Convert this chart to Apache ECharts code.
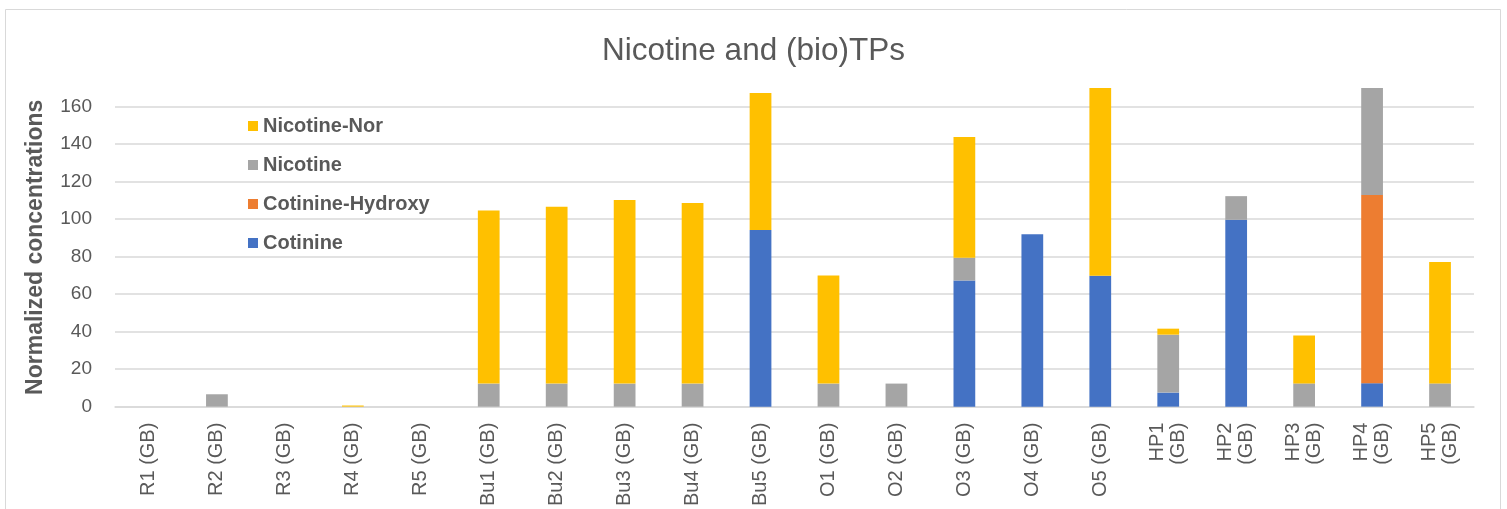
<!DOCTYPE html>
<html>
<head>
<meta charset="utf-8">
<title>Nicotine and (bio)TPs</title>
<script src="https://cdn.jsdelivr.net/npm/echarts@6/dist/echarts.min.js"></script>
<style>
  html, body { margin: 0; padding: 0; background: #ffffff; }
  #chart { width: 1507px; height: 509px; }
</style>
</head>
<body>
<div id="chart"></div>
<script>
// Sample sites (HP labels wrap onto two lines)
const categories = [
  'R1 (GB)', 'R2 (GB)', 'R3 (GB)', 'R4 (GB)', 'R5 (GB)',
  'Bu1 (GB)', 'Bu2 (GB)', 'Bu3 (GB)', 'Bu4 (GB)', 'Bu5 (GB)',
  'O1 (GB)', 'O2 (GB)', 'O3 (GB)', 'O4 (GB)', 'O5 (GB)',
  'HP1\n(GB)', 'HP2\n(GB)', 'HP3\n(GB)', 'HP4\n(GB)', 'HP5\n(GB)'
];

// Stacked series, bottom to top
const cotinine = [
  0, 0, 0, 0, 0,
  0, 0, 0, 0, 94.3,
  0, 0, 67.3, 92.0, 69.8,
  7.5, 99.7, 0, 12.5, 0
];
const cotinineHydroxy = [
  0, 0, 0, 0, 0,
  0, 0, 0, 0, 0,
  0, 0, 0, 0, 0,
  0, 0, 0, 100.4, 0
];
const nicotine = [
  0, 6.6, 0, 0, 0,
  12.3, 12.3, 12.3, 12.3, 0,
  12.3, 12.3, 12.1, 0, 0,
  30.9, 12.6, 12.4, 57.5, 12.4
];
const nicotineNor = [
  0, 0, 0, 0.6, 0,
  92.3, 94.4, 97.9, 96.3, 73.0,
  57.7, 0, 64.4, 0, 100.5,
  3.2, 0, 25.6, 0, 64.8
];

const yTicks = { min: 0, max: 170, interval: 20 };

const FONT = "'Liberation Sans', Arial, sans-serif";
const TEXT = '#595959';
const GRID = '#d9d9d9';

const chart = echarts.init(document.getElementById('chart'), null, { renderer: 'canvas' });

function barSeries(name, data, color) {
  return {
    name: name,
    type: 'bar',
    stack: 'total',
    data: data,
    barWidth: '32%',
    itemStyle: { color: color },
    emphasis: { disabled: true }
  };
}

chart.setOption({
  backgroundColor: '#ffffff',
  animation: false,
  graphic: [{
    type: 'rect',
    silent: true,
    shape: { x: 5.5, y: 9.5, width: 1495, height: 540 },
    style: { fill: 'none', stroke: GRID, lineWidth: 1 }
  }],
  title: {
    text: 'Nicotine and (bio)TPs',
    left: 'center',
    top: 30,
    textStyle: { fontFamily: FONT, fontSize: 31.5, fontWeight: 'normal', color: TEXT }
  },
  legend: {
    orient: 'vertical',
    left: 243,
    top: 111,
    icon: 'rect',
    itemWidth: 10,
    itemHeight: 10,
    itemGap: 19,
    selectedMode: false,
    data: ['Nicotine-Nor', 'Nicotine', 'Cotinine-Hydroxy', 'Cotinine'],
    textStyle: { fontFamily: FONT, fontSize: 20, fontWeight: 'bold', color: TEXT, lineHeight: 20 }
  },
  grid: { left: 115, right: 33, top: 88, bottom: 102.3, containLabel: false },
  xAxis: {
    type: 'category',
    data: categories,
    axisLine: { show: true, lineStyle: { color: GRID, width: 1.5 } },
    axisTick: { show: false },
    axisLabel: {
      interval: 0,
      rotate: 90,
      margin: 16,
      fontFamily: FONT,
      fontSize: 20,
      color: TEXT,
      lineHeight: 21
    }
  },
  yAxis: {
    type: 'value',
    min: yTicks.min,
    max: yTicks.max,
    interval: yTicks.interval,
    name: 'Normalized concentrations',
    nameLocation: 'middle',
    nameGap: 68,
    nameTextStyle: { fontFamily: FONT, fontSize: 23, fontWeight: 'bold', color: TEXT },
    axisLine: { show: false },
    axisTick: { show: false },
    axisLabel: { fontFamily: FONT, fontSize: 19, color: TEXT, margin: 23, showMaxLabel: false },
    splitLine: { show: true, showMaxLine: false, lineStyle: { color: GRID, width: 1.5 } }
  },
  series: [
    barSeries('Cotinine', cotinine, '#4472C4'),
    barSeries('Cotinine-Hydroxy', cotinineHydroxy, '#ED7D31'),
    barSeries('Nicotine', nicotine, '#A5A5A5'),
    barSeries('Nicotine-Nor', nicotineNor, '#FFC000')
  ]
});
</script>
</body>
</html>
